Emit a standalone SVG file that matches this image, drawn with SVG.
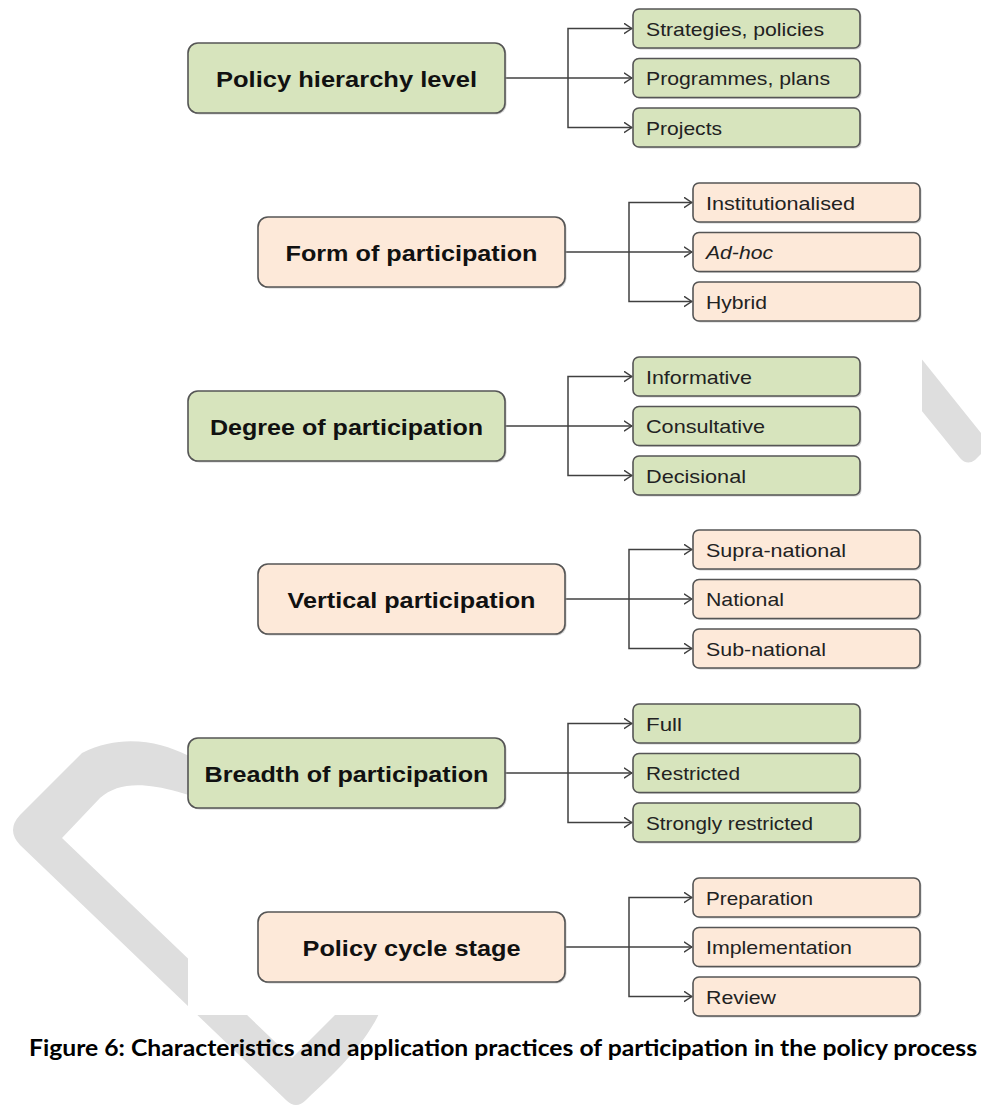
<svg xmlns="http://www.w3.org/2000/svg" width="981" height="1119" viewBox="0 0 981 1119">
<style>
.main{font-family:"Liberation Sans",Arial,sans-serif;font-weight:bold;font-size:22px;fill:#111;text-anchor:middle}
.sub{font-family:"Liberation Sans",Arial,sans-serif;font-size:19px;fill:#222}
.g{fill:#d7e4bd;stroke:#555;stroke-width:1.6}
.p{fill:#fde9d9;stroke:#555;stroke-width:1.6}
.sh{fill:#a8a8a8;opacity:0.55}
.wm{fill:#dedede}
.conn path{fill:none;stroke:#404040;stroke-width:1.5}
.cap{font-family:Lato,"Liberation Sans",sans-serif;font-weight:bold;font-size:22px;fill:#000}
</style>
<defs>
<marker id="arr" markerUnits="userSpaceOnUse" viewBox="0 0 9 12" refX="8.5" refY="6" markerWidth="9" markerHeight="12" orient="auto">
<path d="M0.5,0.8 L8.3,6 L0.5,11.2" fill="none" stroke="#404040" stroke-width="1.5"/>
</marker>
</defs>
<rect width="981" height="1119" fill="#fff"/>
<g id="watermark">
<path class="wm" d="M230,772 L187,755 C160,742 122,733 82,753 L20,815 Q6,830 20,845 L286,1100 Q296,1110 306,1100 C340,1068 370,1040 385,1000 L390,980 L355,980 L340,1010 L292,1058 L62,838 L100,798 C125,776 165,784 230,810 Z"/>
<path class="wm" d="M900,332 L985,438 L985,450 L975,460 Q967,466 960,458 L900,384 Z"/>
<rect x="188" y="0" width="734" height="1015" fill="#fff"/>
</g>
<g id="connectors" class="conn">
<path d="M505,78 H632" marker-end="url(#arr)"/>
<path d="M568,78 V28.5 H632" marker-end="url(#arr)"/>
<path d="M568,78 V127.5 H632" marker-end="url(#arr)"/>
<path d="M565,252 H692" marker-end="url(#arr)"/>
<path d="M629,252 V202.5 H692" marker-end="url(#arr)"/>
<path d="M629,252 V301.5 H692" marker-end="url(#arr)"/>
<path d="M505,426 H632" marker-end="url(#arr)"/>
<path d="M568,426 V376.5 H632" marker-end="url(#arr)"/>
<path d="M568,426 V475.5 H632" marker-end="url(#arr)"/>
<path d="M565,599 H692" marker-end="url(#arr)"/>
<path d="M629,599 V549.5 H692" marker-end="url(#arr)"/>
<path d="M629,599 V648.5 H692" marker-end="url(#arr)"/>
<path d="M505,773 H632" marker-end="url(#arr)"/>
<path d="M568,773 V723.5 H632" marker-end="url(#arr)"/>
<path d="M568,773 V822.5 H632" marker-end="url(#arr)"/>
<path d="M565,947 H692" marker-end="url(#arr)"/>
<path d="M629,947 V897.5 H692" marker-end="url(#arr)"/>
<path d="M629,947 V996.5 H692" marker-end="url(#arr)"/>
</g>
<g id="n-policy-hierarchy">
<rect class="sh" x="189.5" y="44.5" width="317" height="70" rx="10"/>
<rect class="g" x="188" y="43" width="317" height="70" rx="10"/>
<text class="main" x="346.5" y="87" textLength="261" lengthAdjust="spacingAndGlyphs">Policy hierarchy level</text>
</g>
<g id="n-strategies">
<rect class="sh" x="634.5" y="10.5" width="227" height="39" rx="6"/>
<rect class="g" x="633" y="9" width="227" height="39" rx="6"/>
<text class="sub" x="646" y="35.5" textLength="178" lengthAdjust="spacingAndGlyphs">Strategies, policies</text>
</g>
<g id="n-programmes">
<rect class="sh" x="634.5" y="60" width="227" height="39" rx="6"/>
<rect class="g" x="633" y="58.5" width="227" height="39" rx="6"/>
<text class="sub" x="646" y="85" textLength="184" lengthAdjust="spacingAndGlyphs">Programmes, plans</text>
</g>
<g id="n-projects">
<rect class="sh" x="634.5" y="109.5" width="227" height="39" rx="6"/>
<rect class="g" x="633" y="108" width="227" height="39" rx="6"/>
<text class="sub" x="646" y="134.5" textLength="76" lengthAdjust="spacingAndGlyphs">Projects</text>
</g>
<g id="n-form">
<rect class="sh" x="259.5" y="218.5" width="307" height="70" rx="10"/>
<rect class="p" x="258" y="217" width="307" height="70" rx="10"/>
<text class="main" x="411.5" y="261" textLength="252" lengthAdjust="spacingAndGlyphs">Form of participation</text>
</g>
<g id="n-institutionalised">
<rect class="sh" x="694.5" y="184.5" width="227" height="39" rx="6"/>
<rect class="p" x="693" y="183" width="227" height="39" rx="6"/>
<text class="sub" x="706" y="209.5" textLength="149" lengthAdjust="spacingAndGlyphs">Institutionalised</text>
</g>
<g id="n-adhoc">
<rect class="sh" x="694.5" y="234" width="227" height="39" rx="6"/>
<rect class="p" x="693" y="232.5" width="227" height="39" rx="6"/>
<text class="sub" x="706" y="259" font-style="italic" textLength="67" lengthAdjust="spacingAndGlyphs">Ad-hoc</text>
</g>
<g id="n-hybrid">
<rect class="sh" x="694.5" y="283.5" width="227" height="39" rx="6"/>
<rect class="p" x="693" y="282" width="227" height="39" rx="6"/>
<text class="sub" x="706" y="308.5" textLength="61" lengthAdjust="spacingAndGlyphs">Hybrid</text>
</g>
<g id="n-degree">
<rect class="sh" x="189.5" y="392.5" width="317" height="70" rx="10"/>
<rect class="g" x="188" y="391" width="317" height="70" rx="10"/>
<text class="main" x="346.5" y="435" textLength="273" lengthAdjust="spacingAndGlyphs">Degree of participation</text>
</g>
<g id="n-informative">
<rect class="sh" x="634.5" y="358.5" width="227" height="39" rx="6"/>
<rect class="g" x="633" y="357" width="227" height="39" rx="6"/>
<text class="sub" x="646" y="383.5" textLength="106" lengthAdjust="spacingAndGlyphs">Informative</text>
</g>
<g id="n-consultative">
<rect class="sh" x="634.5" y="408" width="227" height="39" rx="6"/>
<rect class="g" x="633" y="406.5" width="227" height="39" rx="6"/>
<text class="sub" x="646" y="433" textLength="119" lengthAdjust="spacingAndGlyphs">Consultative</text>
</g>
<g id="n-decisional">
<rect class="sh" x="634.5" y="457.5" width="227" height="39" rx="6"/>
<rect class="g" x="633" y="456" width="227" height="39" rx="6"/>
<text class="sub" x="646" y="482.5" textLength="100" lengthAdjust="spacingAndGlyphs">Decisional</text>
</g>
<g id="n-vertical">
<rect class="sh" x="259.5" y="565.5" width="307" height="70" rx="10"/>
<rect class="p" x="258" y="564" width="307" height="70" rx="10"/>
<text class="main" x="411.5" y="608" textLength="248" lengthAdjust="spacingAndGlyphs">Vertical participation</text>
</g>
<g id="n-supra">
<rect class="sh" x="694.5" y="531.5" width="227" height="39" rx="6"/>
<rect class="p" x="693" y="530" width="227" height="39" rx="6"/>
<text class="sub" x="706" y="556.5" textLength="140" lengthAdjust="spacingAndGlyphs">Supra-national</text>
</g>
<g id="n-national">
<rect class="sh" x="694.5" y="581" width="227" height="39" rx="6"/>
<rect class="p" x="693" y="579.5" width="227" height="39" rx="6"/>
<text class="sub" x="706" y="606" textLength="78" lengthAdjust="spacingAndGlyphs">National</text>
</g>
<g id="n-sub">
<rect class="sh" x="694.5" y="630.5" width="227" height="39" rx="6"/>
<rect class="p" x="693" y="629" width="227" height="39" rx="6"/>
<text class="sub" x="706" y="655.5" textLength="120" lengthAdjust="spacingAndGlyphs">Sub-national</text>
</g>
<g id="n-breadth">
<rect class="sh" x="189.5" y="739.5" width="317" height="70" rx="10"/>
<rect class="g" x="188" y="738" width="317" height="70" rx="10"/>
<text class="main" x="346.5" y="782" textLength="284" lengthAdjust="spacingAndGlyphs">Breadth of participation</text>
</g>
<g id="n-full">
<rect class="sh" x="634.5" y="705.5" width="227" height="39" rx="6"/>
<rect class="g" x="633" y="704" width="227" height="39" rx="6"/>
<text class="sub" x="646" y="730.5" textLength="36" lengthAdjust="spacingAndGlyphs">Full</text>
</g>
<g id="n-restricted">
<rect class="sh" x="634.5" y="755" width="227" height="39" rx="6"/>
<rect class="g" x="633" y="753.5" width="227" height="39" rx="6"/>
<text class="sub" x="646" y="780" textLength="94" lengthAdjust="spacingAndGlyphs">Restricted</text>
</g>
<g id="n-strongly">
<rect class="sh" x="634.5" y="804.5" width="227" height="39" rx="6"/>
<rect class="g" x="633" y="803" width="227" height="39" rx="6"/>
<text class="sub" x="646" y="829.5" textLength="167" lengthAdjust="spacingAndGlyphs">Strongly restricted</text>
</g>
<g id="n-cycle">
<rect class="sh" x="259.5" y="913.5" width="307" height="70" rx="10"/>
<rect class="p" x="258" y="912" width="307" height="70" rx="10"/>
<text class="main" x="411.5" y="956" textLength="218" lengthAdjust="spacingAndGlyphs">Policy cycle stage</text>
</g>
<g id="n-preparation">
<rect class="sh" x="694.5" y="879.5" width="227" height="39" rx="6"/>
<rect class="p" x="693" y="878" width="227" height="39" rx="6"/>
<text class="sub" x="706" y="904.5" textLength="107" lengthAdjust="spacingAndGlyphs">Preparation</text>
</g>
<g id="n-implementation">
<rect class="sh" x="694.5" y="929" width="227" height="39" rx="6"/>
<rect class="p" x="693" y="927.5" width="227" height="39" rx="6"/>
<text class="sub" x="706" y="954" textLength="146" lengthAdjust="spacingAndGlyphs">Implementation</text>
</g>
<g id="n-review">
<rect class="sh" x="694.5" y="978.5" width="227" height="39" rx="6"/>
<rect class="p" x="693" y="977" width="227" height="39" rx="6"/>
<text class="sub" x="706" y="1003.5" textLength="70" lengthAdjust="spacingAndGlyphs">Review</text>
</g>
<text class="cap" x="29" y="1056" textLength="948" lengthAdjust="spacingAndGlyphs">Figure 6: Characteristics and application practices of participation in the policy process</text>
</svg>
